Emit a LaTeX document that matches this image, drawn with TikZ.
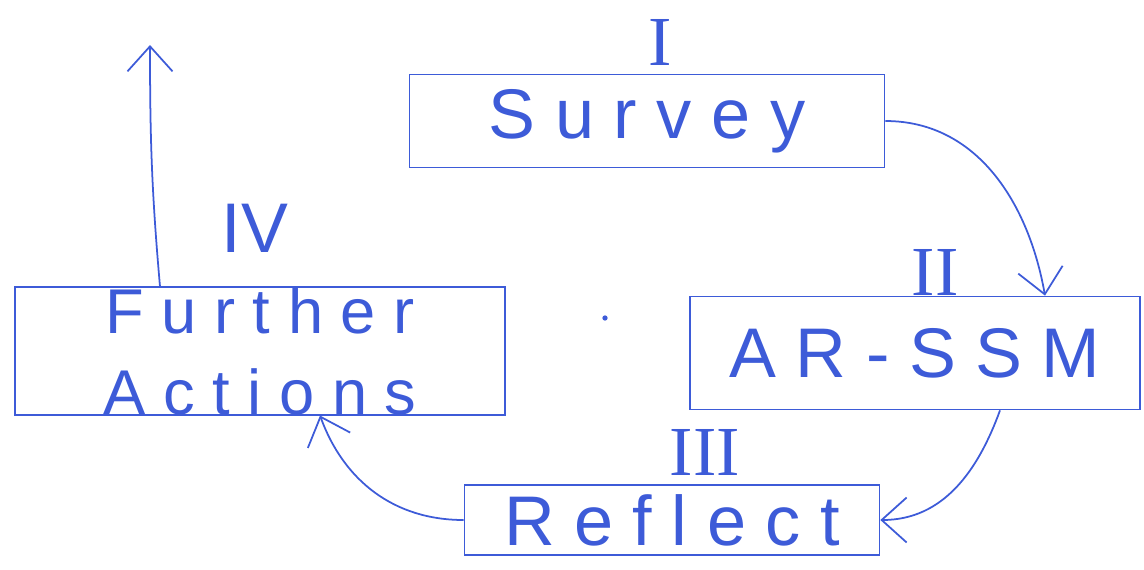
\documentclass[tikz,border=0pt]{standalone}
\usepackage{fontspec}
\setmainfont{Liberation Sans}
\newfontfamily\barfont{Liberation Serif}
\usepackage{xcolor}
\definecolor{pen}{HTML}{3D5BD8}
\usetikzlibrary{positioning,arrows.meta}

\begin{document}
\begin{tikzpicture}[
        x=0.02cm, y=-0.02cm,
        font=\fontsize{40}{44}\selectfont,
        every node/.style={text=pen},
        >={Straight Barb[length=5mm,width=9mm]},
        box/.style={draw=pen, line width=1pt, align=center, inner sep=0pt},
        num/.style={font=\barfont\fontsize{40}{44}\selectfont},
        flow/.style={draw=pen, line width=1pt, ->}
    ]
        \useasboundingbox (0,0) rectangle (1144,569);

        % Boxes
        \node[box, minimum width=9.5cm, minimum height=1.86cm] (survey) at (647,121) {S u r v e y};
        \node[box, minimum width=9cm, minimum height=2.26cm] (arssm) at (915,353) {A R - S S M};
        \node[box, minimum width=8.3cm, minimum height=1.4cm] (reflect) at (672,520) {R e f l e c t};
        \node[box, minimum width=9.8cm, minimum height=2.36cm, font=\fontsize{36}{46}\selectfont] (further) at (260,351) {F u r t h e r\\A c t i o n s};

        % Step numbers
        \node[num] (one) at (660,42) {I};
        \node[num] (two) at (935,272) {II};
        \node[num] (three) at (705,452) {III};
        \node[num, font=\fontsize{40}{44}\selectfont] (four) at (255,228) {IV};

        % Cycle
        \coordinate (up) at (150,45);
        \draw[flow] (survey.east) to[out=0, in=100] (arssm.north -| 1045,0);
        \draw[flow] (arssm.south -| 1000,0) to[out=250, in=0] (reflect.east);
        \draw[flow] (reflect.west) to[out=180, in=290] (further.south -| 320,0);
        \draw[flow] (further.north -| 160,0) to[out=95, in=270] (up);

        \fill[pen] (605,318) circle (1.5pt);
\end{tikzpicture}
\end{document}
